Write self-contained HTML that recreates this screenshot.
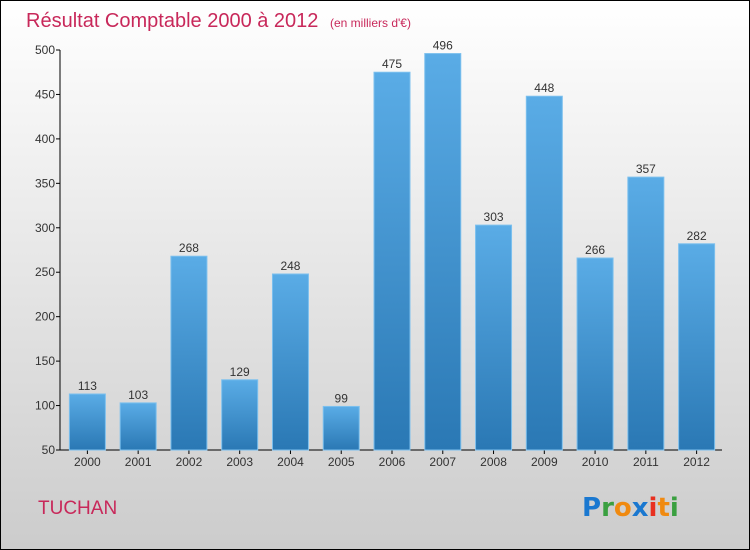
<!DOCTYPE html>
<html><head><meta charset="utf-8"><style>
body{margin:0;width:750px;height:550px;overflow:hidden}
svg{display:block}
</style></head><body>
<svg id="c" width="750" height="550" xmlns="http://www.w3.org/2000/svg" font-family="Liberation Sans, sans-serif">
<defs>
<linearGradient id="bg" x1="0" y1="0" x2="0" y2="1"><stop offset="0" stop-color="#ffffff"/><stop offset="1" stop-color="#cccccc"/></linearGradient>
<linearGradient id="bar" x1="0" y1="0" x2="0" y2="1"><stop offset="0" stop-color="#5aace6"/><stop offset="1" stop-color="#2a78b4"/></linearGradient>
</defs>
<rect x="0.5" y="0.5" width="749" height="549" fill="url(#bg)" stroke="#000"/>
<text x="26" y="27" font-size="20" fill="#c8285a">Résultat Comptable 2000 à 2012 <tspan font-size="12" dx="6">(en milliers d'€)</tspan></text>
<text x="38" y="514" font-size="19" fill="#c8285a">TUCHAN</text>
<g font-size="26" font-weight="bold" font-family="DejaVu Sans, sans-serif">
<text x="582" y="516"><tspan fill="#1a78d0">P</tspan><tspan fill="#3aa040">r</tspan><tspan fill="#f08a10">o</tspan><tspan fill="#1a78d0">x</tspan><tspan fill="#e83020">i</tspan><tspan fill="#f08a10">t</tspan><tspan fill="#3aa040">i</tspan></text>
</g>
<g id="axes"></g>
<g id="bars"></g>
</svg>
<script>
const years=["2000","2001","2002","2003","2004","2005","2006","2007","2008","2009","2010","2011","2012"];
const values=[113,103,268,129,248,99,475,496,303,448,266,357,282];
const yTicks=[50,100,150,200,250,300,350,400,450,500];
const NS="http://www.w3.org/2000/svg";
const x0=62,x1=722,yTop=50,yBot=450,vMin=50,vMax=500;
const y=v=>yBot-(v-vMin)/(vMax-vMin)*(yBot-yTop);
const step=(x1-x0)/years.length;
const xc=i=>x0+step*(i+0.5);
function mk(t,a,p){const e=document.createElementNS(NS,t);for(const k in a)e.setAttribute(k,a[k]);p.appendChild(e);return e;}
const ax=document.getElementById('axes'),bg=document.getElementById('bars');
let l=mk('line',{x1:60,y1:yTop,x2:60,y2:yBot,stroke:'#000'},ax);


l=mk('line',{x1:60,y1:yBot,x2:x1,y2:yBot,stroke:'#000'},ax);


yTicks.forEach(v=>{
 mk('line',{x1:56,y1:y(v),x2:60,y2:y(v),stroke:'#000'},ax);
 const t=mk('text',{x:55,y:y(v)+4,'font-size':12,fill:'#333','text-anchor':'end'},ax);
 t.textContent=v;
 
 
});
years.forEach((yr,i)=>{
 mk('line',{x1:xc(i),y1:yBot,x2:xc(i),y2:yBot+4,stroke:'#000'},ax);
 const t=mk('text',{x:xc(i),y:yBot+16,'font-size':12,fill:'#333','text-anchor':'middle'},ax);
 t.textContent=yr;
 
 
 const r=mk('rect',{x:xc(i)-18,y:y(values[i]),width:36,height:yBot-y(values[i]),fill:'url(#bar)',stroke:'#7cc0ee','stroke-width':1},bg);
 
 
 const v=mk('text',{x:xc(i),y:y(values[i])-4,'font-size':12,fill:'#333','text-anchor':'middle'},bg);
 v.textContent=values[i];
 
 
});
</script>
</body></html>
